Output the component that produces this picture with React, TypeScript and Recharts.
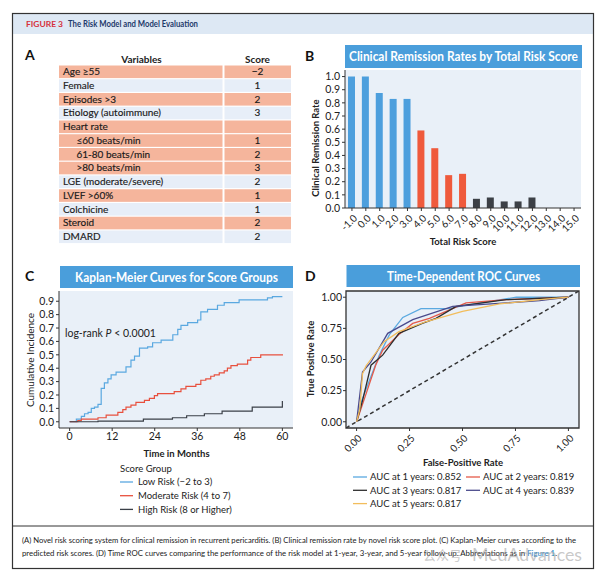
import React from 'react';
import { BarChart, Bar, XAxis, YAxis, Cell, CartesianGrid, LineChart, Line, ReferenceArea } from 'recharts';

const FONT = 'Lato, "Open Sans", sans-serif';

// ---------- Panel A: risk score table ----------
const variableNames = ['Age ≥55', 'Female', 'Episodes >3', 'Etiology (autoimmune)', 'Heart rate', '≤60 beats/min', '61-80 beats/min', '>80 beats/min', 'LGE (moderate/severe)', 'LVEF >60%', 'Colchicine', 'Steroid', 'DMARD'];
const variableScores = ['−2', '1', '2', '3', '', '1', '2', '3', '2', '1', '1', '2', '2'];
const variableIndented = [false, false, false, false, false, true, true, true, false, false, false, false, false];
const variableHighlighted = [true, false, true, false, true, true, true, true, false, true, false, true, false];

// ---------- Panel B: remission rate by score ----------
const riskScores = [-1, 0, 1, 2, 3, 4, 5, 6, 7, 8, 9, 10, 11, 12, 13, 14, 15];
const remissionRates = [1.0, 1.0, 0.875, 0.83, 0.83, 0.59, 0.455, 0.25, 0.26, 0.07, 0.08, 0.05, 0.05, 0.08, 0, 0, 0];
const scoreGroups = ['low', 'low', 'low', 'low', 'low', 'moderate', 'moderate', 'moderate', 'moderate', 'high', 'high', 'high', 'high', 'high', 'high', 'high', 'high'];
const remissionTicks = [0, 0.1, 0.2, 0.3, 0.4, 0.5, 0.6, 0.7, 0.8, 0.9, 1.0];

// ---------- Panel C: Kaplan-Meier ----------
const lowRiskMonths = [0, 1.9, 3.3, 4.2, 5.2, 6.1, 7.0, 8.0, 8.9, 9.8, 10.8, 11.7, 13.1, 15.9, 17.3, 18.3, 19.7, 22.0, 23.4, 25.8, 29.1, 30.5, 31.4, 33.3, 36.1, 37.0, 38.9, 41.7, 43.6, 47.8, 55.8, 57.2, 60];
const lowRiskIncidence = [0, 0.02, 0.04, 0.06, 0.07, 0.10, 0.11, 0.13, 0.25, 0.29, 0.32, 0.35, 0.37, 0.41, 0.46, 0.49, 0.55, 0.56, 0.59, 0.61, 0.65, 0.69, 0.72, 0.74, 0.76, 0.82, 0.84, 0.87, 0.89, 0.91, 0.925, 0.935, 0.935];
const moderateRiskMonths = [0, 2.3, 3.3, 8.0, 10.3, 13.6, 15.0, 15.9, 17.3, 18.7, 21.1, 22.5, 23.9, 24.8, 29.5, 31.4, 32.8, 35.6, 37.0, 38.4, 39.8, 40.8, 42.2, 43.6, 44.5, 45.5, 47.3, 50.2, 51.1, 53.9, 60];
const moderateRiskIncidence = [0, 0.008, 0.02, 0.03, 0.05, 0.07, 0.09, 0.11, 0.125, 0.145, 0.16, 0.175, 0.195, 0.21, 0.225, 0.245, 0.265, 0.28, 0.31, 0.32, 0.34, 0.35, 0.365, 0.38, 0.40, 0.42, 0.43, 0.46, 0.48, 0.50, 0.505];
const highRiskMonths = [0, 8.0, 20.8, 29.0, 33.0, 38.0, 43.0, 51.5, 60];
const highRiskIncidence = [0, 0.005, 0.02, 0.03, 0.045, 0.06, 0.08, 0.11, 0.155];
const monthTicks = [0, 12, 24, 36, 48, 60];
const incidenceTicks = [0, 0.1, 0.2, 0.3, 0.4, 0.5, 0.6, 0.7, 0.8, 0.9];
const scoreGroupLabels = ['Low Risk (−2 to 3)', 'Moderate Risk (4 to 7)', 'High Risk (8 or Higher)'];

// ---------- Panel D: time-dependent ROC ----------
const roc1Fpr = [0, 0.02, 0.06, 0.107, 0.155, 0.218, 0.304, 0.44, 0.486, 0.754, 1.0];
const roc1Tpr = [0, 0.15, 0.33, 0.535, 0.70, 0.838, 0.908, 0.908, 0.927, 1.0, 1.0];
const roc2Fpr = [0, 0.036, 0.09, 0.123, 0.2, 0.265, 0.344, 0.517, 0.707, 1.0];
const roc2Tpr = [0, 0.18, 0.454, 0.575, 0.70, 0.79, 0.83, 0.954, 0.98, 1.0];
const roc3Fpr = [0, 0.028, 0.068, 0.123, 0.2, 0.31, 0.375, 0.47, 0.707, 1.0];
const roc3Tpr = [0, 0.17, 0.454, 0.535, 0.71, 0.79, 0.83, 0.927, 0.98, 1.0];
const roc4Fpr = [0, 0.028, 0.068, 0.147, 0.265, 0.454, 0.58, 0.864, 1.0];
const roc4Tpr = [0, 0.40, 0.48, 0.71, 0.82, 0.927, 0.94, 0.973, 1.0];
const roc5Fpr = [0, 0.015, 0.028, 0.045, 0.13, 0.2, 0.33, 0.5, 0.675, 0.864, 1.0];
const roc5Tpr = [0, 0.1, 0.386, 0.45, 0.643, 0.724, 0.805, 0.886, 0.946, 0.98, 1.0];
const aucLabels = ['AUC at 1 years: 0.852', 'AUC at 2 years: 0.819', 'AUC at 3 years: 0.817', 'AUC at 4 years: 0.839', 'AUC at 5 years: 0.817'];
const rateTicks = [0, 0.25, 0.5, 0.75, 1.0];
const diagonalEnds = [-0.05, 1.05];

// ---------- colours ----------
const C_TITLE = '#4a9edb';
const C_PLOT = '#e9f0f8';
const C_SALMON = '#f5b59c';
const C_ROWBLUE = '#e7eef8';
const groupColors: Record<string, string> = { low: '#4d9fdd', moderate: '#ef5a3c', high: '#3c4046' };
const kmColors = ['#5aa8e0', '#e8503e', '#3a3f47'];
const rocColors = ['#5aa9e0', '#e55a4a', '#2e2e2e', '#4a4a8c', '#f2bd5c'];

const barData = riskScores.map((s, i) => ({ score: s.toFixed(1), rate: remissionRates[i], group: scoreGroups[i] }));
const toSeries = (xs: number[], ys: number[]) => xs.map((x, i) => ({ x, y: ys[i] }));
const kmSeries = [toSeries(lowRiskMonths, lowRiskIncidence), toSeries(moderateRiskMonths, moderateRiskIncidence), toSeries(highRiskMonths, highRiskIncidence)];
const rocSeries = [toSeries(roc1Fpr, roc1Tpr), toSeries(roc2Fpr, roc2Tpr), toSeries(roc3Fpr, roc3Tpr), toSeries(roc4Fpr, roc4Tpr), toSeries(roc5Fpr, roc5Tpr)];
const diagonal = diagonalEnds.map((v) => ({ x: v, y: v }));

const tickStyle = { fontSize: 10.5, fill: '#222', fontFamily: FONT };
const axisLine = { stroke: '#333', strokeWidth: 1 };

const RotatedTick = (props: any) => {
  const { x, y, payload, fmt } = props;
  const label = fmt ? fmt(payload.value) : payload.value;
  const ax = x + 3;
  const ay = y + 3;
  return (
    <text x={ax} y={ay} transform={`rotate(-45 ${ax} ${ay})`} textAnchor="end" dominantBaseline="central" fontSize={10} fill="#222" fontFamily={FONT}>
      {label}
    </text>
  );
};

export default function App() {
  const rowTop = (i: number) => 65.5 + i * 13.75;
  return (
    <div style={{ position: 'absolute', left: 0, top: 0, width: 600, height: 578, background: '#fff', overflow: 'hidden', fontFamily: FONT }}>
      {/* Panel B */}
      <div style={{ position: 'absolute', left: 300, top: 60 }}>
        <BarChart width={290} height={200} data={barData} margin={{ top: 10, right: 9, bottom: 0, left: 0 }}>
          <CartesianGrid fill={C_PLOT} stroke="none" horizontal={false} vertical={false} />
          <XAxis dataKey="score" interval={0} height={52} tickSize={3} axisLine={axisLine} tickLine={axisLine} tick={<RotatedTick />} />
          <YAxis width={45} domain={[0, 1.05]} ticks={remissionTicks} interval={0} allowDataOverflow tickSize={3} tickMargin={2} axisLine={axisLine} tickLine={axisLine} tick={tickStyle} tickFormatter={(v: number) => v.toFixed(1)} />
          <Bar dataKey="rate" barSize={7} isAnimationActive={false}>
            {barData.map((d, i) => (
              <Cell key={i} fill={groupColors[d.group]} />
            ))}
          </Bar>
        </BarChart>
      </div>

      {/* Panel C */}
      <div style={{ position: 'absolute', left: 20, top: 285 }}>
        <LineChart width={280} height={170} margin={{ top: 6, right: 7, bottom: 0, left: 0 }}>
          <CartesianGrid fill={C_PLOT} stroke="none" horizontal={false} vertical={false} />
          <XAxis type="number" dataKey="x" domain={[-3, 63]} ticks={monthTicks} interval={0} allowDataOverflow height={27} tickSize={3} tickMargin={2} axisLine={axisLine} tickLine={axisLine} tick={tickStyle} />
          <YAxis type="number" domain={[-0.0465, 0.9765]} ticks={incidenceTicks} interval={0} allowDataOverflow width={39} tickSize={3} tickMargin={2} axisLine={axisLine} tickLine={axisLine} tick={tickStyle} tickFormatter={(v: number) => v.toFixed(1)} />
          {kmSeries.map((s, i) => (
            <Line key={i} data={s} dataKey="y" type="stepAfter" stroke={kmColors[i]} strokeWidth={1.2} dot={false} activeDot={false} isAnimationActive={false} />
          ))}
        </LineChart>
      </div>

      {/* Panel D */}
      <div style={{ position: 'absolute', left: 300, top: 285 }}>
        <LineChart width={290} height={190} margin={{ top: 6, right: 11, bottom: 0, left: 0 }}>
          <CartesianGrid fill={C_PLOT} stroke="none" horizontal={false} vertical={false} />
          <XAxis type="number" dataKey="x" domain={[-0.05, 1.05]} ticks={rateTicks} interval={0} allowDataOverflow height={47} tickSize={3} tickMargin={2} axisLine={false} tickLine={axisLine} tick={<RotatedTick fmt={(v: number) => v.toFixed(2)} />} />
          <YAxis type="number" domain={[-0.05, 1.05]} ticks={rateTicks} interval={0} allowDataOverflow width={46} tickSize={3} tickMargin={1} axisLine={false} tickLine={axisLine} tick={tickStyle} tickFormatter={(v: number) => v.toFixed(2)} />
          <ReferenceArea x1={-0.05} x2={1.05} y1={-0.05} y2={1.05} fill="none" stroke="#333" strokeWidth={1.3} />
          <Line data={diagonal} dataKey="y" type="linear" stroke="#333" strokeWidth={1.5} strokeDasharray="4 3" dot={false} activeDot={false} isAnimationActive={false} />
          {rocSeries.map((s, i) => (
            <Line key={i} data={s} dataKey="y" type="linear" stroke={rocColors[i]} strokeWidth={1.3} dot={false} activeDot={false} isAnimationActive={false} />
          ))}
        </LineChart>
      </div>

      {/* Static overlay */}
      <svg width={600} height={578} style={{ position: 'absolute', left: 0, top: 0, pointerEvents: 'none' }} fontFamily={FONT}>
        {/* frame + header */}
        <rect x={13} y={14} width={580} height={20} fill="#dde8f4" />
        <rect x={12.5} y={13.5} width={581} height={555} fill="none" stroke="#333" strokeWidth={1.2} />
        <line x1={12.5} x2={593.5} y1={526} y2={526} stroke="#333" strokeWidth={1} />
        <text x={26} y={27} fontSize={7.5} fontWeight={700} fill="#d6303c" textLength={37} lengthAdjust="spacingAndGlyphs">FIGURE 3</text>
        <text x={68} y={27} fontSize={8.5} fontWeight={700} fill="#1d3a6b" textLength={130} lengthAdjust="spacingAndGlyphs">The Risk Model and Model Evaluation</text>

        {/* panel letters */}
        <text x={25} y={59.5} fontSize={14} fontWeight={700} fill="#111">A</text>
        <text x={305} y={60.5} fontSize={14} fontWeight={700} fill="#111">B</text>
        <text x={25} y={280.5} fontSize={14} fontWeight={700} fill="#111">C</text>
        <text x={305} y={280.5} fontSize={14} fontWeight={700} fill="#111">D</text>

        {/* Panel A table */}
        <text x={141.5} y={62.5} fontSize={10} fontWeight={700} fill="#222" textAnchor="middle">Variables</text>
        <text x={257.5} y={62.5} fontSize={10} fontWeight={700} fill="#222" textAnchor="middle">Score</text>
        {variableNames.map((name, i) => (
          <g key={i}>
            <rect x={59} y={rowTop(i)} width={163.5} height={12.6} fill={variableHighlighted[i] ? C_SALMON : C_ROWBLUE} />
            <rect x={224.5} y={rowTop(i)} width={66.5} height={12.6} fill={variableHighlighted[i] ? C_SALMON : C_ROWBLUE} />
            <text x={variableIndented[i] ? 76.5 : 63} y={rowTop(i) + 9.6} fontSize={10} fill="#1a1a1a" stroke="#1a1a1a" strokeWidth={0.15}>{name}</text>
            <text x={257.5} y={rowTop(i) + 9.6} fontSize={10} fill="#1a1a1a" stroke="#1a1a1a" strokeWidth={0.15} textAnchor="middle">{variableScores[i]}</text>
          </g>
        ))}

        {/* Panel B titles */}
        <rect x={345} y={45} width={237} height={23} fill={C_TITLE} />
        <text x={349} y={61} fontSize={12.5} fontWeight={700} fill="#fff" textLength={229} lengthAdjust="spacingAndGlyphs">Clinical Remission Rates by Total Risk Score</text>
        <text x={0} y={0} transform="translate(318.5 148) rotate(-90)" fontSize={9.5} fontWeight={700} fill="#222" textAnchor="middle">Clinical Remission Rate</text>
        <text x={463} y={245} fontSize={9.5} fontWeight={700} fill="#222" textAnchor="middle">Total Risk Score</text>

        {/* Panel C titles */}
        <rect x={60} y={266} width={233} height={22} fill={C_TITLE} />
        <text x={75} y={281.5} fontSize={12.5} fontWeight={700} fill="#fff" textLength={203} lengthAdjust="spacingAndGlyphs">Kaplan-Meier Curves for Score Groups</text>
        <text x={0} y={0} transform="translate(33.5 360) rotate(-90)" fontSize={10} fill="#222" textAnchor="middle">Cumulative Incidence</text>
        <text x={65} y={336.5} fontSize={10.5} fill="#222">log-rank <tspan fontStyle="italic">P</tspan> &lt; 0.0001</text>
        <text x={176.5} y={456.5} fontSize={9.5} fontWeight={700} fill="#222" textAnchor="middle">Time in Months</text>
        <text x={120} y={471.5} fontSize={9.5} fill="#222">Score Group</text>
        {scoreGroupLabels.map((lab, i) => (
          <g key={i}>
            <line x1={120} x2={133} y1={482 + i * 13.7} y2={482 + i * 13.7} stroke={kmColors[i]} strokeWidth={1.3} />
            <text x={138} y={485.3 + i * 13.7} fontSize={9.5} fill="#222">{lab}</text>
          </g>
        ))}

        {/* Panel D titles */}
        <rect x={346.5} y={265} width={233.5} height={22} fill={C_TITLE} />
        <text x={387} y={280.5} fontSize={12.5} fontWeight={700} fill="#fff" textLength={153} lengthAdjust="spacingAndGlyphs">Time-Dependent ROC Curves</text>
        <text x={0} y={0} transform="translate(313.5 359) rotate(-90)" fontSize={9.5} fontWeight={700} fill="#222" textAnchor="middle">True Positive Rate</text>
        <text x={463} y={465.5} fontSize={9.5} fontWeight={700} fill="#222" textAnchor="middle">False-Positive Rate</text>
        {aucLabels.map((lab, i) => {
          const col = i % 2;
          const row = Math.floor(i / 2);
          const lx = col === 0 ? 353 : 466;
          const ly = 477 + row * 13.3;
          return (
            <g key={i}>
              <line x1={lx} x2={lx + 14} y1={ly} y2={ly} stroke={rocColors[i]} strokeWidth={1.3} />
              <text x={lx + 17} y={ly + 3.3} fontSize={9.5} fill="#222">{lab}</text>
            </g>
          );
        })}

        {/* caption */}
        <text x={22} y={543} fontSize={7.3} fill="#222" textLength={554} lengthAdjust="spacingAndGlyphs">(A) Novel risk scoring system for clinical remission in recurrent pericarditis. (B) Clinical remission rate by novel risk score plot. (C) Kaplan-Meier curves according to the</text>
        <text x={22} y={555.5} fontSize={7.3} fill="#222" textLength={535} lengthAdjust="spacingAndGlyphs">predicted risk scores. (D) Time ROC curves comparing the performance of the risk model at 1-year, 3-year, and 5-year follow-up. Abbreviations as in <tspan fill="#1a7fc1">Figure 1</tspan>.</text>
        <text x={423} y={560} fontSize={13} fill="#9a9a9a" fillOpacity={0.55} fontFamily='"Noto Sans CJK SC", sans-serif'>公众号 ·</text>
        <text x={472} y={561} fontSize={18} fill="#9a9a9a" fillOpacity={0.55} textLength={110} lengthAdjust="spacingAndGlyphs">MedAdvances</text>
      </svg>
    </div>
  );
}
